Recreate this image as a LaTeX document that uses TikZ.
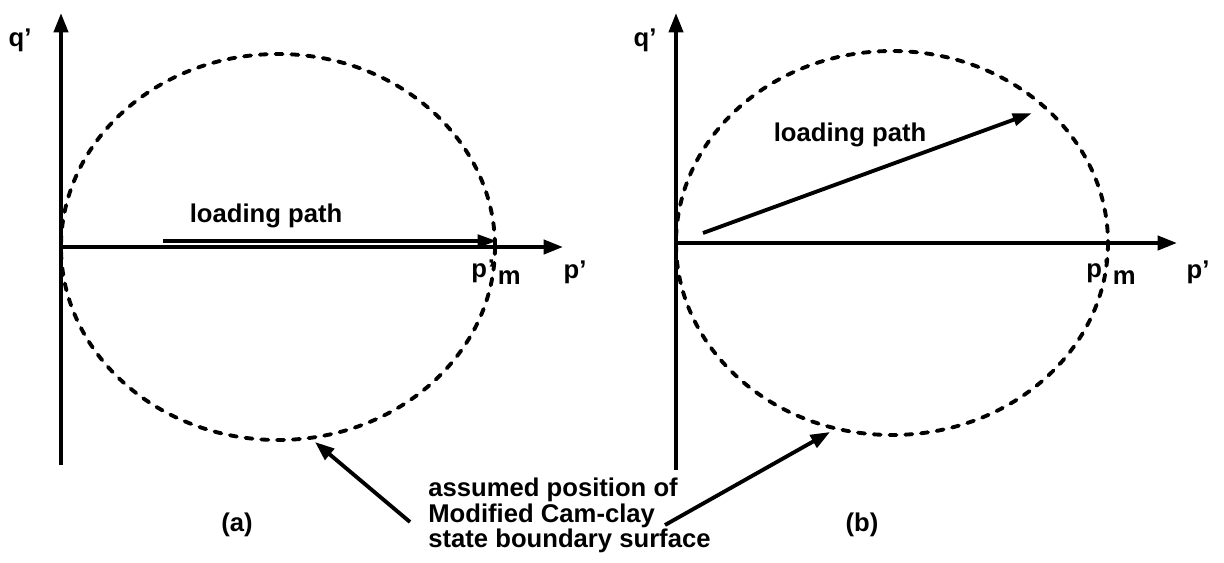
\documentclass[tikz,border=0pt]{standalone}
\usepackage{fontspec}
\setmainfont{Liberation Sans}
\usetikzlibrary{arrows.meta,positioning}
\tikzset{
  ax/.style={-{Triangle[length=11pt,width=8pt]}, line width=2.2pt},
  yieldsurf/.style={line width=2.2pt, dash pattern=on 4pt off 5pt, line cap=round},
  lpath/.style={-{Triangle[length=11pt,width=7pt]}, line width=2.2pt},
  callout/.style={-{Triangle[length=11pt,width=8pt]}, line width=2.2pt},
  lbl/.style={font=\fontsize{14.6}{14.3}\selectfont\bfseries, inner sep=0pt},
}
\newcommand{\pmlabel}{p\kern0.5pt'\kern1.5pt\raisebox{-4pt}{m}}

\begin{document}
\begin{tikzpicture}[x=0.02cm, y=-0.02cm]
  \useasboundingbox (0,0) rectangle (1224,562);
  % (a) isotropic loading
  \coordinate (Oa) at (61,247);
  \coordinate (Qa) at (61,13);
  \coordinate (Ba) at (61,465);
  \coordinate (Pa) at (563,247);
  \draw[ax] (Ba) -- (Qa);
  \draw[ax] (Oa) -- (Pa);
  \draw[yieldsurf] (278,247) ellipse [x radius=217, y radius=193];
  \coordinate (La0) at (163,241);
  \coordinate (La1) at (497,241);
  \draw[lpath] (La0) -- (La1);
  \node[lbl] (qa) at (20,40) {q'};
  \node[lbl] (pa) at (575,272) {p'};
  \node[lbl] (pma) at (496,272) {\pmlabel};
  \node[lbl] (loada) at (266,216) {loading path};
  \node[lbl] (capa) at (237,525) {(a)};
  % (b) anisotropic loading
  \coordinate (Ob) at (676,243);
  \coordinate (Qb) at (676,13);
  \coordinate (Bb) at (676,470);
  \coordinate (Pb) at (1177,243);
  \draw[ax] (Bb) -- (Qb);
  \draw[ax] (Ob) -- (Pb);
  \draw[yieldsurf] (892,243) ellipse [x radius=216, y radius=192];
  \coordinate (Lb0) at (703,233);
  \coordinate (Lb1) at (1032,113);
  \draw[lpath] (Lb0) -- (Lb1);
  \node[lbl] (qb) at (645,40) {q'};
  \node[lbl] (pb) at (1198,272) {p'};
  \node[lbl] (pmb) at (1111,272) {\pmlabel};
  \node[lbl] (loadb) at (850,135) {loading path};
  \node[lbl] (capb) at (862,525) {(b)};
  % shared note
  \node[lbl, align=left, anchor=north west] (note) at (428,478)
    {assumed position of\\Modified Cam-clay\\state boundary surface};
  \coordinate (Ca0) at (410,522);
  \coordinate (Ca1) at (315,442);
  \coordinate (Cb0) at (665,525);
  \coordinate (Cb1) at (830,432);
  \draw[callout] (Ca0) -- (Ca1);
  \draw[callout] (Cb0) -- (Cb1);
\end{tikzpicture}
\end{document}
